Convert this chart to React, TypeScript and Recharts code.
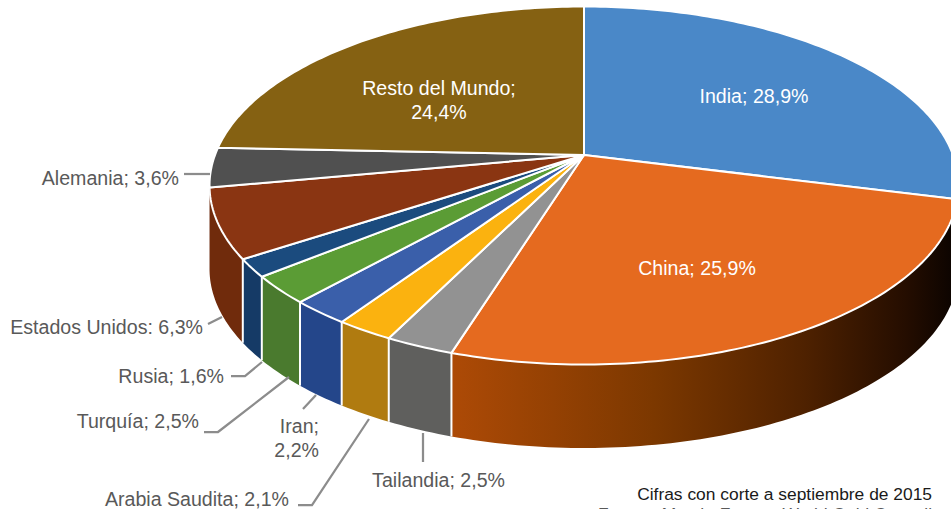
import React from 'react';
import { PieChart, Pie } from 'recharts';

const CATEGORIES = ['India', 'China', 'Tailandia', 'Arabia Saudita', 'Iran', 'Turquía', 'Rusia', 'Estados Unidos', 'Alemania', 'Resto del Mundo'];
// the labels are rounded, these are read from the slice edges and stay within the rounding
const SHARES = [28.94, 25.94, 2.54, 2.14, 2.2, 2.5, 1.6, 6.26, 3.56, 24.35];
const TOP_COLORS = ['#4A88C8', '#E56A1F', '#929292', '#FBB20F', '#3A5FAA', '#5B9C35', '#1B4B7E', '#8A3512', '#505050', '#856112'];
const WALL_COLORS = ['#2F5F8F', '#AD4A06', '#5F5F5D', '#B07B10', '#24468A', '#4A7A2E', '#153A66', '#702B0C', '#383838', '#5E4510'];

const tableData = CATEGORIES.map((name, i) => ({ name, value: SHARES[i], fill: TOP_COLORS[i], wall: WALL_COLORS[i] }));

// label placement, one entry per category
const LABELS: any[] = [
  { x: 754, y: 103, anchor: 'middle', color: '#fff', lines: ['India; 28,9%'] },
  { x: 697, y: 275, anchor: 'middle', color: '#fff', lines: ['China; 25,9%'] },
  { x: 505, y: 487, anchor: 'end', lines: ['Tailandia; 2,5%'], leader: '423,433 423,462' },
  { x: 289, y: 506, anchor: 'end', lines: ['Arabia Saudita; 2,1%'], leader: '298,505 312,505 369,419' },
  { x: 319, y: 433, anchor: 'end', lines: ['Iran;', '2,2%'], leader: '303,409 316,395' },
  { x: 199, y: 428, anchor: 'end', lines: ['Turquía; 2,5%'], leader: '204,432 218,432 289,377' },
  { x: 224, y: 383, anchor: 'end', lines: ['Rusia; 1,6%'], leader: '231,376 245,376 262,362' },
  { x: 203, y: 334, anchor: 'end', lines: ['Estados Unidos: 6,3%'], leader: '208,324 222,317' },
  { x: 179, y: 185, anchor: 'end', lines: ['Alemania; 3,6%'], leader: '184,174 210,174' },
  { x: 439, y: 95, anchor: 'middle', color: '#fff', lines: ['Resto del Mundo;', '24,4%'] },
];

// the disc is tilted with some perspective, so rim points go through a small projection
const RX = 369;
const RY = 173.8;
const PERSPECTIVE = 0.1704;
const WALL_DEPTH = 83.5;
const WALL_FROM = 99.8;
const WALL_TO = 260.2;

const rimPoint = (cx: number, cy: number, deg: number) => {
  const a = (deg * Math.PI) / 180;
  const u = Math.sin(a);
  const v = Math.cos(a);
  const d = 1 + PERSPECTIVE * v;
  return [cx + (RX * u) / d, cy - (RY * v) / d];
};

const rimPath = (cx: number, cy: number, from: number, to: number, dy = 0) => {
  const steps = Math.max(2, Math.ceil(Math.abs(to - from)));
  const pts: string[] = [];
  for (let i = 0; i <= steps; i++) {
    const [x, y] = rimPoint(cx, cy, from + ((to - from) * i) / steps);
    pts.push(`${x.toFixed(2)} ${(y + dy).toFixed(2)}`);
  }
  return pts;
};

const Slice = (props: any) => {
  const { cx, cy, startAngle, endAngle, fill } = props;
  const wall = props.wall ?? props.payload?.wall;
  const name = props.name ?? props.payload?.name;
  // recharts angles run counter clockwise from 3 o'clock, here clockwise from the top
  const from = 90 - startAngle;
  const to = 90 - endAngle;
  const wallFrom = Math.max(from, WALL_FROM);
  const wallTo = Math.min(to, WALL_TO);
  const hasWall = wallTo > wallFrom;
  const top = `M ${cx} ${cy} L ${rimPath(cx, cy, from, to).join(' L ')} Z`;
  let side = '';
  if (hasWall) {
    const upper = rimPath(cx, cy, wallFrom, wallTo);
    const lower = rimPath(cx, cy, wallTo, wallFrom, WALL_DEPTH);
    side = `M ${upper.join(' L ')} L ${lower.join(' L ')} Z`;
  }
  const isChina = name === 'China';
  const gradId = `wall-${name}`.replace(/\s/g, '');
  const [ex, ey] = rimPoint(cx, cy, wallFrom);
  return (
    <g>
      {isChina && (
        <defs>
          <linearGradient id={gradId} x1="0" y1="0" x2="1" y2="0">
            <stop offset="0" stopColor={wall} />
            <stop offset="0.4" stopColor="#7C3800" />
            <stop offset="0.7" stopColor="#4E2100" />
            <stop offset="0.9" stopColor="#240D00" />
            <stop offset="1" stopColor="#0A0300" />
          </linearGradient>
        </defs>
      )}
      {hasWall && <path d={side} fill={isChina ? `url(#${gradId})` : wall} />}
      {hasWall && wallTo - wallFrom > 4 && wallFrom === from && (
        <line x1={ex} y1={ey} x2={ex} y2={ey + WALL_DEPTH} stroke="#fff" strokeWidth={2} />
      )}
      <path d={top} fill={fill} stroke="#fff" strokeWidth={2} strokeLinejoin="round" />
    </g>
  );
};

const renderLabel = (props: any) => {
  const l = LABELS[props.index];
  return (
    <g>
      {l.leader && <polyline points={l.leader} fill="none" stroke="#8C8C8C" strokeWidth={2.25} />}
      <text x={l.x} y={l.y} textAnchor={l.anchor} fill={l.color || '#595959'} fontSize={19.6} fontFamily="Liberation Sans">
        {l.lines.map((t: string, i: number) => (
          <tspan key={t} x={l.x} dy={i === 0 ? 0 : 24}>{t}</tspan>
        ))}
      </text>
    </g>
  );
};

export default function App() {
  return (
    <div style={{ position: 'absolute', left: 0, top: 0, width: 951, height: 509, background: '#fff', overflow: 'hidden' }}>
      <PieChart width={951} height={509} margin={{ top: 0, right: 0, bottom: 0, left: 0 }}>
        <Pie
          data={tableData}
          dataKey="value"
          nameKey="name"
          cx={584}
          cy={155}
          outerRadius={148}
          startAngle={90}
          endAngle={-270}
          stroke="none"
          shape={Slice}
          label={renderLabel}
          labelLine={false}
          isAnimationActive={false}
        />
        <text x={932} y={500} textAnchor="end" fill="#1A1A1A" fontSize={17.4} fontFamily="Liberation Sans">
          Cifras con corte a septiembre de 2015
        </text>
        <text x={932} y={520} textAnchor="end" fill="#595959" fontSize={17.4} fontFamily="Liberation Sans">
          Fuente: Marsh, Forex y World Gold Council
        </text>
      </PieChart>
    </div>
  );
}
